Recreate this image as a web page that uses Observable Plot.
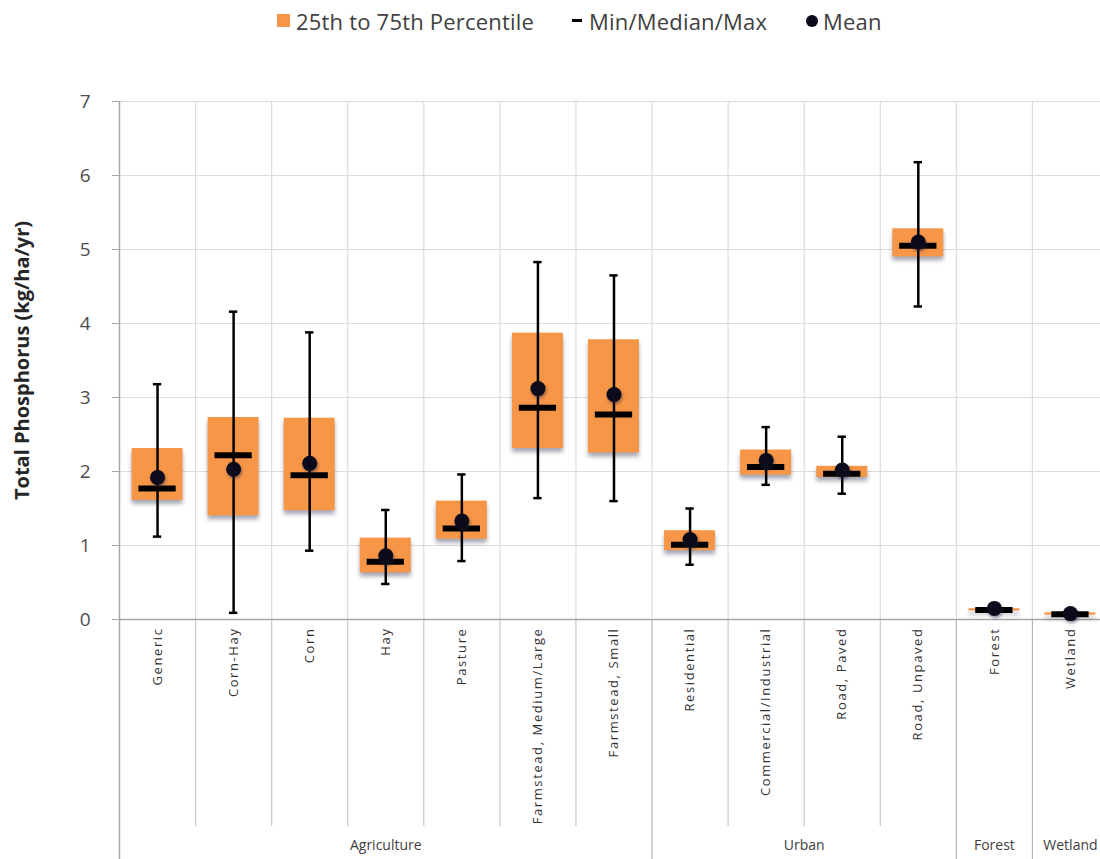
<!DOCTYPE html>
<html><head><meta charset="utf-8">
<script src="https://cdn.jsdelivr.net/npm/d3@7"></script>
<script src="https://cdn.jsdelivr.net/npm/@observablehq/plot@0.6"></script>
<style>
html,body{margin:0;padding:0;background:#fff;overflow:hidden;}
#wrap{position:relative;width:1100px;height:859px;overflow:hidden;}
#chart{position:absolute;top:0;left:0;width:1108px;}
#chart svg{max-width:none !important;}
#legend{position:absolute;top:0;left:0;width:1100px;height:45px;font-family:"Open Sans",sans-serif;font-size:22px;color:#404040;z-index:2;}
.lt{position:absolute;top:6px;line-height:30px;white-space:nowrap;letter-spacing:0.2px;}
.sw{position:absolute;}
#chart g[aria-label="rect"] rect{filter:drop-shadow(0px 4px 2px rgba(60,60,90,0.45));}
#chart g[aria-label="dot"] circle{filter:drop-shadow(1px 2px 1.5px rgba(40,40,70,0.5));}
#chart g[aria-label="x-axis tick label"] text{letter-spacing:1.6px;}
</style>
</head><body>
<div id="wrap">
  <div id="chart"></div>
  <div id="legend"></div>
</div>
<script>
const categories = ["Generic","Corn-Hay","Corn","Hay","Pasture","Farmstead, Medium/Large","Farmstead, Small","Residential","Commercial/Industrial","Road, Paved","Road, Unpaved","Forest","Wetland"];
const groups = ["Agriculture","Urban","Forest","Wetland"];
const groupSizes = [7,4,1,1];
const p25 =     [1.61,1.40,1.47,0.63,1.085,2.31,2.25,0.93,1.95,1.92,4.90,0.115,0.06];
const p75 =     [2.31,2.73,2.72,1.10,1.60,3.87,3.78,1.20,2.29,2.07,5.28,0.145,0.09];
const medians = [1.77,2.22,1.95,0.78,1.23,2.86,2.77,1.01,2.06,1.97,5.05,0.13,0.07];
const means =   [1.92,2.03,2.11,0.86,1.33,3.12,3.04,1.08,2.15,2.02,5.10,0.15,0.08];
const mins =    [1.12,0.09,0.93,0.48,0.79,1.64,1.60,0.74,1.82,1.70,4.23,0.115,0.06];
const maxs =    [3.18,4.16,3.88,1.48,1.96,4.83,4.65,1.50,2.60,2.47,6.18,0.16,0.09];
const yTicks = [0,1,2,3,4,5,6,7];
const yTitle = "Total Phosphorus (kg/ha/yr)";
const legendLabels = ["25th to 75th Percentile","Min/Median/Max","Mean"];

const ORANGE = "#F79646";
const rows = categories.map((c,i)=>({i, c, q1:p25[i], q3:p75[i], med:medians[i], mean:means[i], min:mins[i], max:maxs[i]}));

let acc = 0;
const groupRows = groups.map((g,k)=>{ const s = acc; acc += groupSizes[k]; return {name:g, start:s, end:acc}; });
const groupBounds = groupRows.map(g=>g.start).filter(v=>v>0);
const innerBounds = d3.range(1, categories.length).filter(v=>!groupBounds.includes(v));

const W = 1108, H = 859;
const boxHalf = 0.335, medHalf = 0.245, capHalf = 0.055;

const chart = Plot.plot({
  width: W, height: H,
  marginTop: 101, marginBottom: 240, marginLeft: 119, marginRight: 0,
  style: {fontFamily: '"Open Sans", sans-serif', background: "#fff", maxWidth: "none"},
  x: {domain: [0, categories.length]},
  y: {domain: [0, 7]},
  marks: [
    Plot.ruleY(yTicks.filter(v=>v>0), {stroke: "#dcdcdc", strokeWidth: 1.2}),
    Plot.ruleX(innerBounds, {stroke: "#dcdcdc", strokeWidth: 1.2}),
    Plot.ruleX(innerBounds, {stroke: "#c8c8c8", strokeWidth: 1.2, insetTop: 518, insetBottom: -207}),
    Plot.ruleX(groupBounds, {stroke: "#dcdcdc", strokeWidth: 1.2}),
    Plot.ruleX(groupBounds, {stroke: "#b4b4b4", strokeWidth: 1.2, insetTop: 518, insetBottom: -240}),
    Plot.ruleX([0], {stroke: "#a6a6a6", strokeWidth: 1.5, insetBottom: -240}),
    Plot.ruleY([0], {stroke: "#a6a6a6", strokeWidth: 1.5}),
    Plot.axisY({ticks: yTicks, tickFormat: d3.format("d"), tickSize: 7, tickPadding: 22, fontSize: 19, color: "#4d4d4d", stroke: "#a6a6a6", label: null}),
    Plot.axisX({ticks: categories.map((c,i)=>i+0.5), tickFormat: v=>categories[Math.floor(v)], tickRotate: -90, tickSize: 0, tickPadding: 8, fontSize: 13, fill: "#333333", label: null}),
    Plot.text(groupRows, {x: d=>(d.start+d.end)/2, text: "name", frameAnchor: "bottom", dy: 230, fontSize: 14, fill: "#404040"}),
    Plot.text([yTitle], {text: d=>d, frameAnchor: "left", textAnchor: "middle", rotate: -90, dx: -97, fontSize: 20, fontWeight: "bold", fill: "#262626"}),
    Plot.rectY(rows, {x1: d=>d.i+0.5-boxHalf, x2: d=>d.i+0.5+boxHalf, y1: "q1", y2: "q3", fill: ORANGE}),
    Plot.ruleX(rows, {x: d=>d.i+0.5, y1: "min", y2: "max", stroke: "#000", strokeWidth: 2.5}),
    Plot.ruleY(rows, {y: "min", x1: d=>d.i+0.5-capHalf, x2: d=>d.i+0.5+capHalf, stroke: "#000", strokeWidth: 2.5}),
    Plot.ruleY(rows, {y: "max", x1: d=>d.i+0.5-capHalf, x2: d=>d.i+0.5+capHalf, stroke: "#000", strokeWidth: 2.5}),
    Plot.ruleY(rows, {y: "med", x1: d=>d.i+0.5-medHalf, x2: d=>d.i+0.5+medHalf, stroke: "#000", strokeWidth: 6}),
    Plot.dot(rows, {x: d=>d.i+0.5, y: "mean", r: 7.5, fill: "#0b0b1c", stroke: "none"})
  ]
});
document.getElementById("chart").appendChild(chart);

const lg = document.getElementById("legend");
lg.innerHTML = `
  <div class="sw" style="left:277px;top:14px;width:13px;height:13px;background:${ORANGE}"></div>
  <div class="lt" style="left:296px">${legendLabels[0]}</div>
  <div class="sw" style="left:572px;top:19px;width:10px;height:3px;background:#000"></div>
  <div class="lt" style="left:589px">${legendLabels[1]}</div>
  <div class="sw" style="left:806px;top:15px;width:12px;height:12px;border-radius:50%;background:#0b0b1c"></div>
  <div class="lt" style="left:823px">${legendLabels[2]}</div>`;
</script>
</body></html>
